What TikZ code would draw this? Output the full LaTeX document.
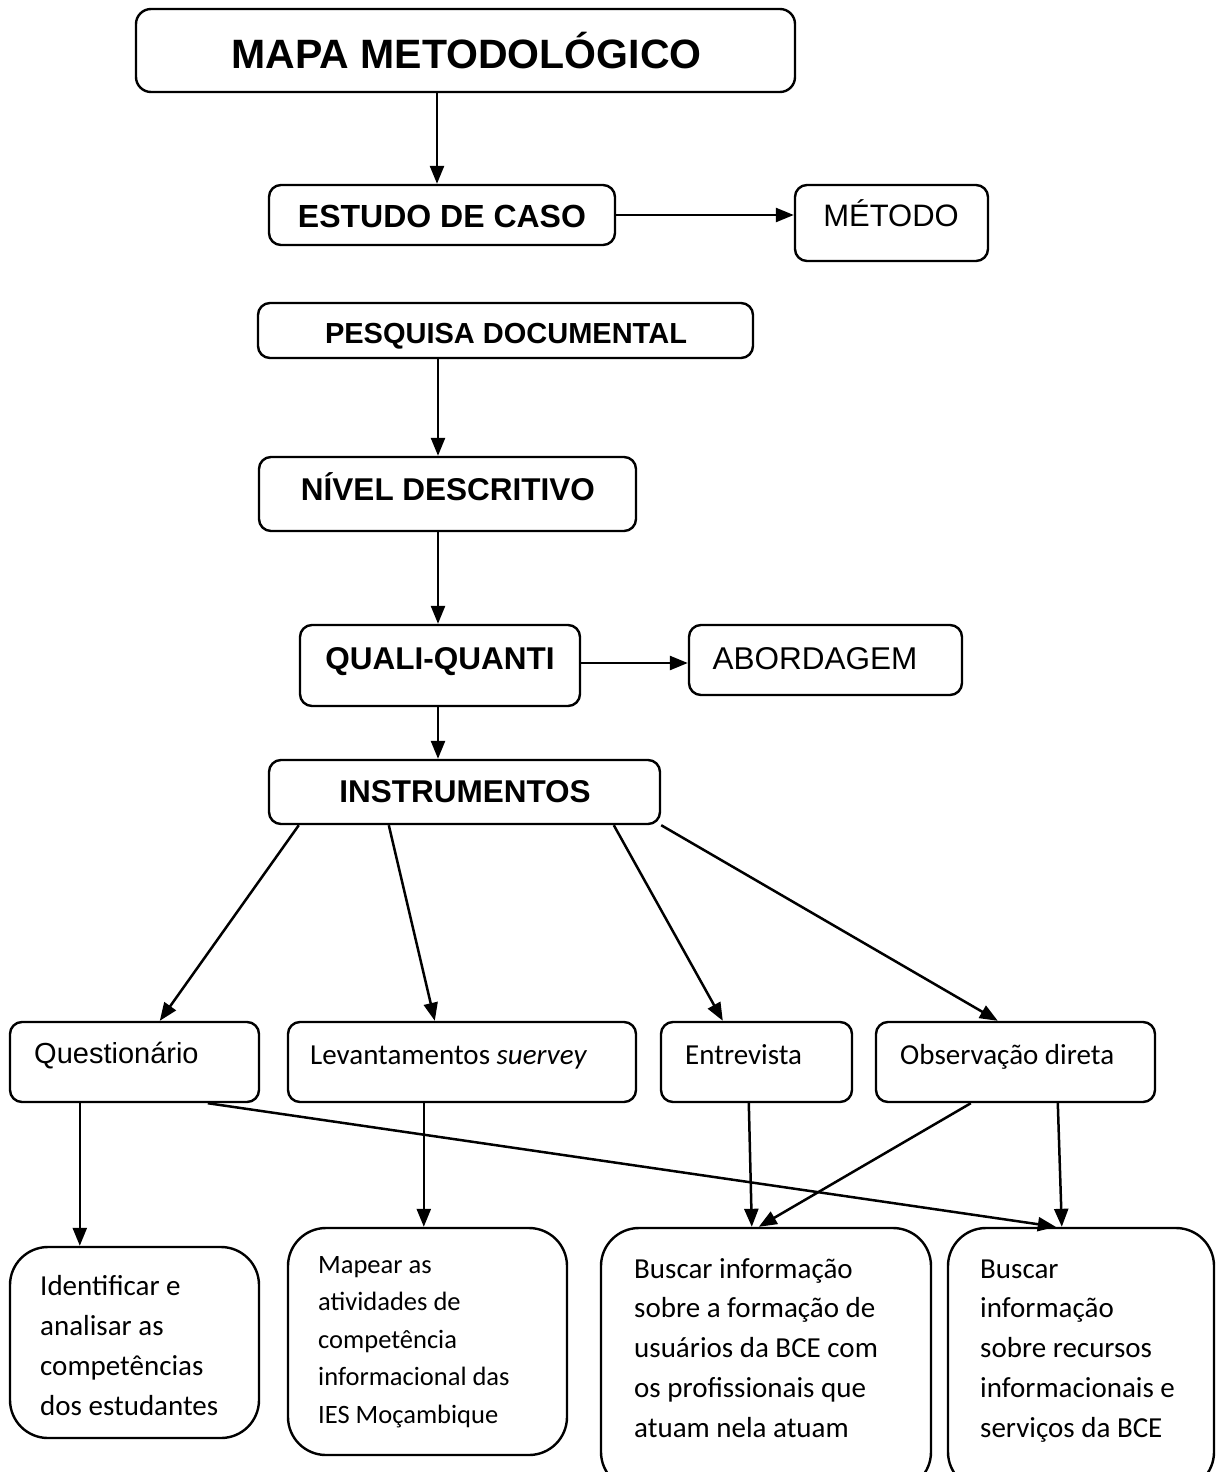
\documentclass[tikz,border=0pt]{standalone}
\usepackage{fontspec}
\setmainfont{Liberation Sans}
\newfontfamily\calibri{Carlito}
\usetikzlibrary{arrows.meta}
\begin{document}
\begin{tikzpicture}[x=1pt,y=-1pt,
  box/.style={draw, line width=2.4pt, rounded corners=12pt, inner sep=0pt},
  bigbox/.style={box, rounded corners=38pt},
  arr/.style={line width=2.5pt, -{Triangle[length=18pt,width=14pt]}},
  hd/.style={anchor=base, inner sep=0pt, font=\fontsize{31.5}{36}\selectfont\bfseries},
  hdreg/.style={anchor=base, inner sep=0pt, font=\fontsize{31.5}{36}\selectfont},
  cal/.style={anchor=base west, inner sep=0pt, font=\calibri\fontsize{29}{34}\selectfont},
  para/.style={anchor=north west, inner sep=0pt, align=left}
]
\useasboundingbox (0,0) rectangle (1216,1472);
\fill[white] (0,0) rectangle (1216,1472);

% boxes
\node[box, rounded corners=15pt, minimum width=659pt, minimum height=83pt] (mapa) at (465.5,50.5) {};
\node[box, minimum width=346pt, minimum height=60pt] (estudo) at (442,215) {};
\node[box, minimum width=193pt, minimum height=76pt] (metodo) at (891.5,223) {};
\node[box, minimum width=495pt, minimum height=55pt] (pesquisa) at (505.5,330.5) {};
\node[box, minimum width=377pt, minimum height=74pt] (nivel) at (447.5,494) {};
\node[box, minimum width=280pt, minimum height=81pt] (quali) at (440,665.5) {};
\node[box, minimum width=273pt, minimum height=70pt] (abord) at (825.5,660) {};
\node[box, minimum width=391pt, minimum height=64pt] (instr) at (464.5,792) {};
\node[box, minimum width=249pt, minimum height=80pt] (quest) at (134.5,1062) {};
\node[box, minimum width=348pt, minimum height=80pt] (levant) at (462,1062) {};
\node[box, minimum width=191pt, minimum height=80pt] (entrev) at (756.5,1062) {};
\node[box, minimum width=279pt, minimum height=80pt] (observ) at (1015.5,1062) {};
\node[bigbox, minimum width=249pt, minimum height=191pt] (boxA) at (134.5,1342.5) {};
\node[bigbox, minimum width=279pt, minimum height=227pt] (boxB) at (427.5,1341.5) {};
\node[bigbox, minimum width=330pt, minimum height=262pt] (boxC) at (766,1359) {};
\node[bigbox, minimum width=266pt, minimum height=262pt] (boxD) at (1081,1359) {};

% texts
\node[anchor=base, inner sep=0pt, font=\fontsize{41}{48}\selectfont\bfseries] (tmapa) at (466.5,69) {MAPA METODOLÓGICO};
\node[anchor=base, inner sep=0pt, font=\fontsize{32}{38}\selectfont\bfseries] (testudo) at (442,227) {ESTUDO DE CASO};
\node[hdreg, font=\fontsize{31}{36}\selectfont] (tmetodo) at (891,226) {MÉTODO};
\node[hd, font=\fontsize{29}{34}\selectfont\bfseries] (tpesq) at (506,343) {PESQUISA DOCUMENTAL};
\node[hd] (tnivel) at (448,500) {NÍVEL DESCRITIVO};
\node[hd] (tquali) at (440,669) {QUALI-QUANTI};
\node[hdreg] (tabord) at (815,669) {ABORDAGEM};
\node[hd] (tinstr) at (465,802) {INSTRUMENTOS};

\node[anchor=base west, inner sep=0pt, font=\fontsize{29}{34}\selectfont] (tquest) at (34,1063) {Questionário};
\node[cal] (tlevant) at (310,1064) {Levantamentos \textit{suervey}};
\node[cal] (tentrev) at (685,1064) {Entrevista};
\node[cal] (tobserv) at (900,1064) {Observação direta};

\node[para, font=\calibri\fontsize{29}{40}\selectfont] (tA) at (40,1274)
  {\rule{0pt}{21pt}Identificar e\\analisar as\\competências\\dos estudantes};
\node[para, font=\calibri\fontsize{26.5}{37.5}\selectfont] (tB) at (318,1254)
  {\rule{0pt}{19pt}Mapear as\\atividades de\\competência\\informacional das\\IES Moçambique};
\node[para, font=\calibri\fontsize{29}{39.75}\selectfont] (tC) at (634,1257)
  {\rule{0pt}{21pt}Buscar informação\\sobre a formação de\\usuários da BCE com\\os profissionais que\\atuam nela atuam};
\node[para, font=\calibri\fontsize{29}{39.75}\selectfont] (tD) at (980,1257)
  {\rule{0pt}{21pt}Buscar\\informação\\sobre recursos\\informacionais e\\serviços da BCE};

% connectors
\draw[arr] ([xshift=-28.5pt]mapa.south) -- ([xshift=-28.5pt]mapa.south |- estudo.north);
\draw[arr] (estudo.east) -- (estudo.east -| metodo.west);
\draw[arr] ([xshift=-67.5pt]pesquisa.south) -- ([xshift=-67.5pt]pesquisa.south |- nivel.north);
\draw[arr] ([xshift=-9.5pt]nivel.south) -- ([xshift=-9.5pt]nivel.south |- quali.north);
\draw[arr] ([yshift=2.5pt]quali.east) -- ([yshift=2.5pt]quali.east -| abord.west);
\draw[arr] ([xshift=-2pt]quali.south) -- ([xshift=-2pt]quali.south |- instr.north);

\draw[arr] ([xshift=31pt]instr.south west) -- ([xshift=151pt]quest.north west);
\draw[arr] ([xshift=121pt]instr.south west) -- ([xshift=148pt]levant.north west);
\draw[arr] ([xshift=346pt]instr.south west) -- ([xshift=63pt]entrev.north west);
\draw[arr] (instr.south east) -- ([xshift=123pt]observ.north west);

\draw[arr] ([xshift=71pt]quest.south west) -- ([xshift=71pt]quest.south west |- boxA.north);
\draw[arr] ([xshift=199pt]quest.south west) -- ([xshift=109pt]boxD.north west);
\draw[arr] ([xshift=137pt]levant.south west) -- ([xshift=137pt]levant.south west |- boxB.north);
\draw[arr] ([xshift=89pt]entrev.south west) -- ([xshift=152pt]boxC.north west);
\draw[arr] ([xshift=96pt]observ.south west) -- ([xshift=159pt]boxC.north west);
\draw[arr] ([xshift=183pt]observ.south west) -- ([xshift=115pt]boxD.north west);
\end{tikzpicture}
\end{document}
